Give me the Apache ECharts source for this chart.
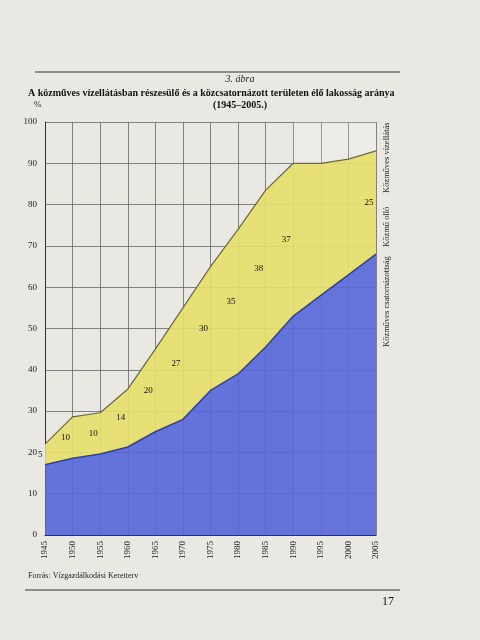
<!DOCTYPE html><html><head><meta charset="utf-8"><script src="https://cdn.jsdelivr.net/npm/echarts@6/dist/echarts.min.js"></script></head>
<body style="margin:0;background:#e9e8e3"><div id="c" style="width:480px;height:640px"></div><script>
const years=['1945','1950','1955','1960','1965','1970','1975','1980','1985','1990','1995','2000','2005'];
const sewer=[17,18.6,19.6,21.3,25,28,35,39,45.5,53,58,63,68];
const gap=[5,10,10,14,20,27,30,35,38,37,32,28,25];
const gapLabels=[5,10,10,14,20,27,30,35,38,37,null,null,25];
const mid=sewer.map((s,i)=>gapLabels[i]==null?null:s+gap[i]/2);
const ch=echarts.init(document.getElementById('c'));
const serif='Liberation Serif';
ch.setOption({
animation:false,
grid:{left:45,right:104,top:122,bottom:105},
xAxis:{type:'category',data:years,boundaryGap:false,
 axisLabel:{rotate:90,fontFamily:serif,fontSize:9,color:'#222',margin:6},
 axisLine:{lineStyle:{color:'#333'}},axisTick:{show:false},
 splitLine:{show:true,lineStyle:{color:'#666',width:0.8}}},
yAxis:{type:'value',min:0,max:100,interval:10,
 axisLabel:{fontFamily:serif,fontSize:9,color:'#222'},
 axisLine:{show:true,lineStyle:{color:'#333'}},
 splitLine:{lineStyle:{color:'#666',width:0.8}}},
series:[
{type:'line',stack:'a',data:sewer,symbol:'none',lineStyle:{color:'#2d3fb0',width:1.5},areaStyle:{color:'#5566d8',opacity:0.9},
 markArea:{silent:true,itemStyle:{color:'rgba(255,255,255,0.18)'},data:[[{xAxis:'1990'},{xAxis:'2005'}]]}},
{type:'line',stack:'a',data:gap,symbol:'none',lineStyle:{color:'#6e6a2a',width:1.2},areaStyle:{color:'#e6df6a',opacity:0.9}},
{type:'scatter',z:10,data:mid,symbolSize:1,itemStyle:{color:'rgba(0,0,0,0)',opacity:1},label:{show:true,position:'left',distance:2,
 formatter:p=>gapLabels[p.dataIndex],fontFamily:serif,fontSize:9,color:'#111',opacity:1}}
],
graphic:[
{type:'line',shape:{x1:35,y1:72,x2:400,y2:72},style:{stroke:'#333',lineWidth:1}},
{type:'text',left:'center',top:74,style:{text:'3. ábra',font:'italic 10px '+serif,fill:'#222'}},
{type:'text',left:28,top:88,style:{text:'A közműves vízellátásban részesülő és a közcsatornázott területen élő lakosság aránya',font:'bold 10px '+serif,fill:'#111'}},
{type:'text',left:'center',top:100,style:{text:'(1945–2005.)',font:'bold 10px '+serif,fill:'#111'}},
{type:'text',left:34,top:100,style:{text:'%',font:'9px '+serif,fill:'#222'}},
{type:'text',x:382,y:347,rotation:Math.PI/2,style:{text:'Közműves csatornázottság',font:'8.5px '+serif,fill:'#222'}},
{type:'text',x:382,y:247,rotation:Math.PI/2,style:{text:'Közmű olló',font:'8.5px '+serif,fill:'#222'}},
{type:'text',x:382,y:193,rotation:Math.PI/2,style:{text:'Közműves vízellátás',font:'8.5px '+serif,fill:'#222'}},
{type:'text',left:28,top:572,style:{text:'Forrás: Vízgazdálkodási Keretterv',font:'8px '+serif,fill:'#222'}},
{type:'line',shape:{x1:25,y1:590,x2:400,y2:590},style:{stroke:'#333',lineWidth:1}},
{type:'text',left:382,top:596,style:{text:'17',font:'12px '+serif,fill:'#111'}}
]});
</script></body></html>
